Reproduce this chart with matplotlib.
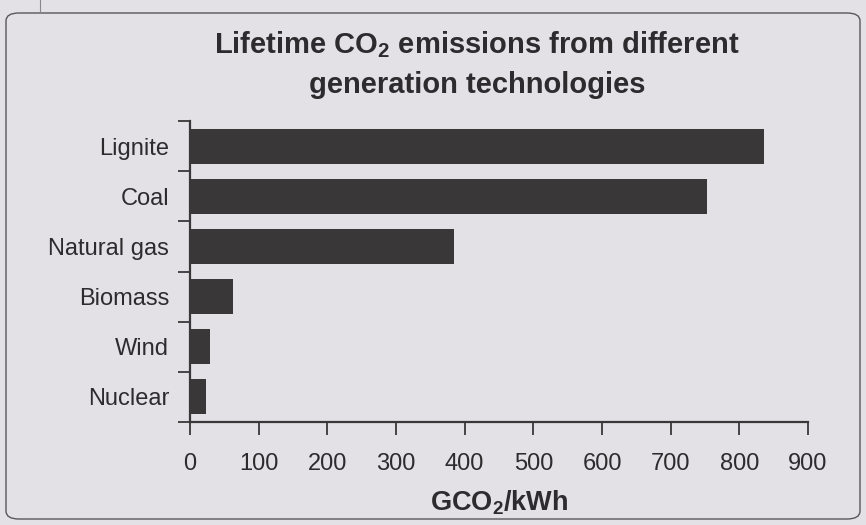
import numpy as np
import matplotlib
matplotlib.use('Agg')
import matplotlib.pyplot as plt
from matplotlib.patches import FancyBboxPatch

## DATA
techs = ['Lignite', 'Coal', 'Natural gas', 'Biomass', 'Wind', 'Nuclear']
emissions = [836, 753, 384, 63, 29, 23]  # gCO2/kWh
xticks = [0, 100, 200, 300, 400, 500, 600, 700, 800, 900]

BG = '#e4e1e6'
DARK = '#3a3739'
TXT = '#2e2b2e'

plt.rcParams['font.family'] = ['Liberation Sans', 'DejaVu Sans']
plt.rcParams['mathtext.default'] = 'regular'

fig = plt.figure(figsize=(8.66, 5.25), dpi=100)
fig.patch.set_facecolor(BG)

# rounded frame round the chart
frame = FancyBboxPatch((6/866, 6/525), 854/866, 506/525,
                       boxstyle='round,pad=0,rounding_size=0.015',
                       transform=fig.transFigure, facecolor='none',
                       edgecolor='#5a575a', lw=1.0)
fig.patches.append(frame)
# bit of the page edge above the frame
fig.add_artist(plt.Line2D([40/866, 40/866], [1 - 12/525, 1.0],
                          transform=fig.transFigure, color='#8a878a', lw=0.8))

ax = fig.add_axes([190/866, 1 - 422/525, 618/866, 301/525])
ax.set_facecolor(BG)

y = np.arange(len(techs))
ax.barh(y, emissions, height=0.7, color=DARK)
ax.set_ylim(len(techs) - 0.5, -0.5)
ax.set_xlim(0, 900)

ax.set_yticks(y)
ax.set_yticklabels(techs, fontsize=17, color=TXT)
ax.set_yticks(np.arange(len(techs) + 1) - 0.5, minor=True)
ax.tick_params(axis='y', which='major', length=0, pad=15)
ax.tick_params(axis='y', which='minor', length=9, width=1.3, color=DARK, direction='out')

ax.set_xticks(xticks)
ax.set_xticklabels([str(v) for v in xticks], fontsize=17, color=TXT)
ax.tick_params(axis='x', length=9, width=1.3, color=DARK, direction='out', pad=13)

for s in ['top', 'right']:
    ax.spines[s].set_visible(False)
for s in ['left', 'bottom']:
    ax.spines[s].set_color(DARK)
    ax.spines[s].set_linewidth(1.6)

ax.set_xlabel('GCO$_2$/kWh', fontsize=19.5, fontweight='bold', color=TXT, labelpad=10)

fig.text(477/866, 1 - 45/525, 'Lifetime CO$_2$ emissions from different',
         ha='center', va='center', fontsize=21, fontweight='bold', color=TXT)
fig.text(477/866, 1 - 85/525, 'generation technologies',
         ha='center', va='center', fontsize=21, fontweight='bold', color=TXT)

fig.savefig('out.png', dpi=100, facecolor=BG)
